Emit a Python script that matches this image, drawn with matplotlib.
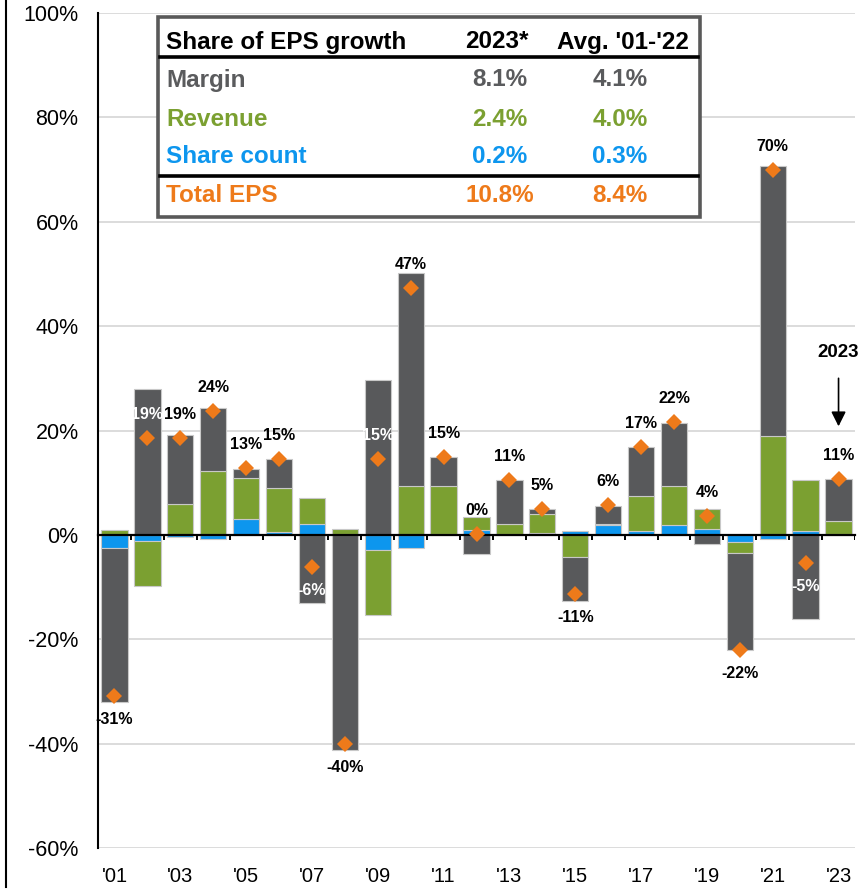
import matplotlib
matplotlib.use("Agg")
import matplotlib.pyplot as plt
from matplotlib.patches import Rectangle
from matplotlib.lines import Line2D
import numpy as np

plt.rcParams['font.family'] = ['Liberation Sans', 'DejaVu Sans']

# ---------------- data ----------------
years = list(range(2001, 2024))
year_labels = ["'01", "'03", "'05", "'07", "'09", "'11", "'13", "'15", "'17", "'19", "'21", "'23"]
share_count = [-2.5, -1.2, -0.5, -0.8, 3.1, 0.5, 2.1, 0.2, -2.9, -2.6, 0.1, 1.0,
               0.2, 0.45, 0.7, 1.8, 0.8, 1.8, 1.1, -1.35, -0.7, 0.8, 0.2]
revenue = [1.0, -8.6, 6.0, 12.2, 7.8, 8.4, 4.9, 0.9, -12.4, 9.4, 9.3, 2.4,
           1.8, 3.55, -4.3, 0.3, 6.6, 7.6, 3.9, -2.15, 19.0, 9.8, 2.4]
margin = [-29.6, 28.0, 13.1, 12.2, 1.7, 5.6, -13.0, -41.2, 29.6, 40.7, 5.6, -3.7,
          8.6, 1.0, -8.3, 3.5, 9.4, 12.1, -1.7, -18.6, 51.6, -16.2, 8.1]
total_eps = [-30.8, 18.6, 18.6, 23.8, 12.8, 14.6, -6.1, -40.0, 14.6, 47.3, 15.0, 0.1,
             10.6, 5.0, -11.4, 5.7, 16.8, 21.6, 3.6, -22.1, 69.9, -5.4, 10.7]

table_header = ["Share of EPS growth", "2023*", "Avg. '01-'22"]
table_rows = ["Margin", "Revenue", "Share count", "Total EPS"]
table_2023 = ["8.1%", "2.4%", "0.2%", "10.8%"]
table_avg = ["4.1%", "4.0%", "0.3%", "8.4%"]

# ---------------- style ----------------
C_GRAY = '#58595b'
C_GREEN = '#7ba031'
C_BLUE = '#0d96ee'
C_ORANGE = '#ee7a1a'
row_colors = ['#5a5b5d', C_GREEN, C_BLUE, C_ORANGE]

W, H = 867, 893
fig = plt.figure(figsize=(W / 100, H / 100), dpi=100)
def fx(px): return px / W
def fy(py): return 1 - py / H

ax = fig.add_axes([fx(98), fy(848), fx(855) - fx(98), fy(13) - fy(848)])

x = np.arange(len(years))
pos_base = np.zeros(len(years))
neg_base = np.zeros(len(years))
for vals, col in [(share_count, C_BLUE), (revenue, C_GREEN), (margin, C_GRAY)]:
    v = np.array(vals)
    base = np.where(v >= 0, pos_base, neg_base)
    ax.bar(x, v, bottom=base, width=0.8, color=col, edgecolor='#c8c8c8',
           linewidth=0.8, zorder=3)
    pos_base = pos_base + np.where(v >= 0, v, 0)
    neg_base = neg_base + np.where(v < 0, v, 0)

ax.plot(x, total_eps, linestyle='none', marker='D', markersize=8.5,
        color=C_ORANGE, markeredgewidth=0, zorder=5)

# data labels
for i, t in enumerate(total_eps):
    ly = t + 4.5 if t >= 0 else t - 4.5
    inside = (neg_base[i] + 2 < ly < pos_base[i] - 2)
    ax.text(x[i], ly, f"{int(np.floor(t + 0.5)):d}%", ha='center', va='center',
            fontsize=11.5, fontweight='bold',
            color='white' if inside else 'black', zorder=6)

# axes formatting
ax.set_xlim(-0.5, len(years) - 0.5)
ax.set_ylim(-60, 100)
ax.set_yticks(np.arange(-60, 101, 20))
ax.set_yticklabels([f"{v}%" for v in range(-60, 101, 20)], fontsize=15.5)
ax.tick_params(axis='y', length=0, pad=14)
ax.yaxis.grid(True, color='#d9d9d9', linewidth=1.3, zorder=0)
ax.set_axisbelow(True)
ax.set_xticks([])
for s in ['top', 'right']:
    ax.spines[s].set_visible(False)
ax.spines['left'].set_linewidth(1.5)
ax.spines['bottom'].set_position(('data', 0))
ax.spines['bottom'].set_linewidth(1.6)
ax.spines['bottom'].set_zorder(4)
ax.vlines(np.arange(-0.5, len(years), 1), -1.0, 0, color='black', linewidth=1.4, zorder=4)

trans = matplotlib.transforms.blended_transform_factory(ax.transData, ax.transAxes)
for i, lab in enumerate(year_labels):
    ax.text(x[2 * i], -0.034, lab, transform=trans, ha='center', va='center', fontsize=14.5)

# 2023 annotation
ax.text(x[-1], 35.0, "2023", ha='center', va='center', fontsize=13.5, fontweight='bold')
ax.annotate("", xy=(x[-1], 20.8), xytext=(x[-1], 30.0),
            arrowprops=dict(arrowstyle='-|>', color='black', lw=1.2,
                            mutation_scale=22, shrinkA=0, shrinkB=0))

# table
fig.patches.append(Rectangle((fx(158), fy(217)), fx(700) - fx(158), fy(17) - fy(217),
                             transform=fig.transFigure, facecolor='white',
                             edgecolor='#595959', linewidth=2.6, zorder=10))
for py in [57, 176]:
    fig.add_artist(Line2D([fx(160), fx(698)], [fy(py), fy(py)], color='black',
                          linewidth=2.6, zorder=11))
TFS = 17.5
fig.text(fx(166), fy(42), table_header[0], ha='left', va='center', fontsize=TFS,
         fontweight='bold', color='black', zorder=12)
fig.text(fx(497), fy(42), table_header[1], ha='center', va='center', fontsize=TFS,
         fontweight='bold', color='black', zorder=12)
fig.text(fx(623), fy(42), table_header[2], ha='center', va='center', fontsize=TFS,
         fontweight='bold', color='black', zorder=12)
for r, (name, v1, v2, col) in enumerate(zip(table_rows, table_2023, table_avg, row_colors)):
    py = [80, 119, 157, 195][r]
    fig.text(fx(166), fy(py), name, ha='left', va='center', fontsize=TFS,
             fontweight='bold', color=col, zorder=12)
    fig.text(fx(500), fy(py), v1, ha='center', va='center', fontsize=TFS,
             fontweight='bold', color=col, zorder=12)
    fig.text(fx(620), fy(py), v2, ha='center', va='center', fontsize=TFS,
             fontweight='bold', color=col, zorder=12)

# left figure border line
fig.add_artist(Line2D([fx(6), fx(6)], [1, fy(887)], color='black', linewidth=1.5))

fig.savefig('out.png', dpi=100, facecolor='white')
